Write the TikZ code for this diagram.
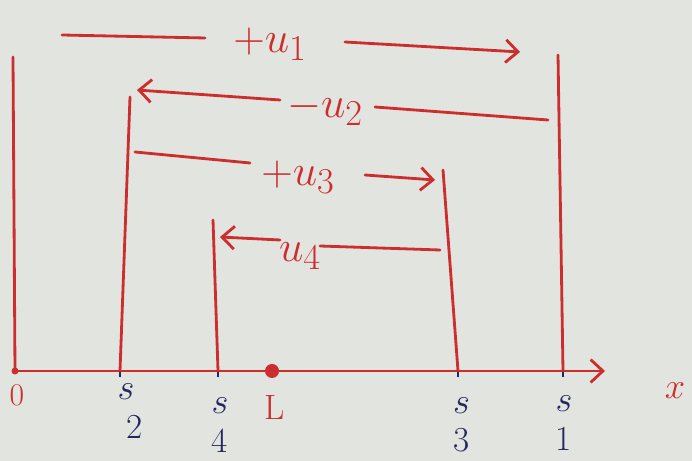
\documentclass[tikz,border=0pt]{standalone}
\usetikzlibrary{arrows.meta}
\definecolor{vermelho}{RGB}{204, 45, 45}
\definecolor{azul}{RGB}{35, 40, 95}
\definecolor{papel}{RGB}{226, 228, 223}

\begin{document}
\begin{tikzpicture}[
    linha/.style={
        vermelho,
        line width=1.6pt,
        line cap=round
    },
    seta/.style={
        linha,
        -{Straight Barb[length=7pt,width=13pt,line width=1.6pt]}
    },
    rotulo/.style={
        text=vermelho,
        font=\fontsize{28}{30}\selectfont,
        inner sep=1pt
    },
    ponto/.style={
        text=azul,
        font=\fontsize{20}{20}\selectfont,
        align=center,
        inner sep=1pt
    },
    marca/.style={
        azul,
        line width=1.6pt
    }
]

\fill[papel] (0,0) rectangle (13.84,9.22);
\useasboundingbox (0,0) rectangle (13.84,9.22);

% eixo
\coordinate (inicio) at (0.30,1.80);
\coordinate (fim) at (12.10,1.80);
\draw[seta] (inicio) -- (fim);

\coordinate (o) at (0.30,1.80);
\coordinate (s2) at (2.40,1.80);
\coordinate (s4) at (4.36,1.80);
\coordinate (s3) at (9.16,1.80);
\coordinate (s1) at (11.26,1.80);
\node[circle, fill=vermelho, inner sep=0pt, minimum size=0.28cm] (L) at (5.44,1.80) {};

\foreach \s in {s2,s4,s3,s1}
    \draw[marca] ([yshift=-0.12cm]\s) -- ([yshift=0.08cm]\s);
\fill[vermelho] (o) circle (0.07);

% rotulos do eixo
\node[rotulo, font=\fontsize{18}{18}\selectfont] (zero) at (0.34,1.32) {0};
\node[ponto] (ls2) at (2.52,1.00) {$s$\\[2pt]\hspace*{0.5em}2};
\node[ponto] (ls4) at (4.40,0.72) {$s$\\[2pt]4};
\node[rotulo, font=\fontsize{20}{20}\selectfont] (lL) at (5.50,1.06) {L};
\node[ponto] (ls3) at (9.23,0.72) {$s$\\[2pt]3};
\node[ponto] (ls1) at (11.28,0.76) {$s$\\[2pt]1};
\node[rotulo, font=\fontsize{22}{22}\selectfont] (eixox) at (13.50,1.40) {$x$};

% paredes
\coordinate (t0) at (0.26,8.08);
\coordinate (t2) at (2.60,7.28);
\coordinate (t4) at (4.26,4.82);
\coordinate (t3) at (8.86,5.82);
\coordinate (t1) at (11.16,8.12);
\draw[linha] (o) -- (t0);
\draw[linha] (s2) -- (t2);
\draw[linha] (s4) -- (t4);
\draw[linha] (s3) -- (t3);
\draw[linha] (s1) -- (t1);

% +u1
\node[rotulo] (u1) at (5.40,8.34) {$+u_{1}$};
\coordinate (u1a) at (1.24,8.52);
\coordinate (u1b) at (4.10,8.46);
\coordinate (u1c) at (6.90,8.38);
\coordinate (u1d) at (10.40,8.18);
\draw[linha] (u1a) -- (u1b);
\draw[seta] (u1c) -- (u1d);

% -u2
\node[rotulo] (u2) at (6.50,7.04) {$-u_{2}$};
\coordinate (u2a) at (5.60,7.22);
\coordinate (u2b) at (2.74,7.42);
\coordinate (u2c) at (7.50,7.08);
\coordinate (u2d) at (10.96,6.82);
\draw[seta] (u2a) -- (u2b);
\draw[linha] (u2c) -- (u2d);

% +u3
\node[rotulo] (u3) at (5.96,5.68) {$+u_{3}$};
\coordinate (u3a) at (2.70,6.18);
\coordinate (u3b) at (5.00,5.96);
\coordinate (u3c) at (7.30,5.72);
\coordinate (u3d) at (8.70,5.62);
\draw[linha] (u3a) -- (u3b);
\draw[seta] (u3c) -- (u3d);

% u4
\node[rotulo] (u4) at (6.00,4.10) {$u_{4}$};
\coordinate (u4a) at (5.60,4.42);
\coordinate (u4b) at (4.40,4.48);
\coordinate (u4c) at (6.40,4.30);
\coordinate (u4d) at (8.80,4.22);
\draw[seta] (u4a) -- (u4b);
\draw[linha] (u4c) -- (u4d);

\end{tikzpicture}
\end{document}
